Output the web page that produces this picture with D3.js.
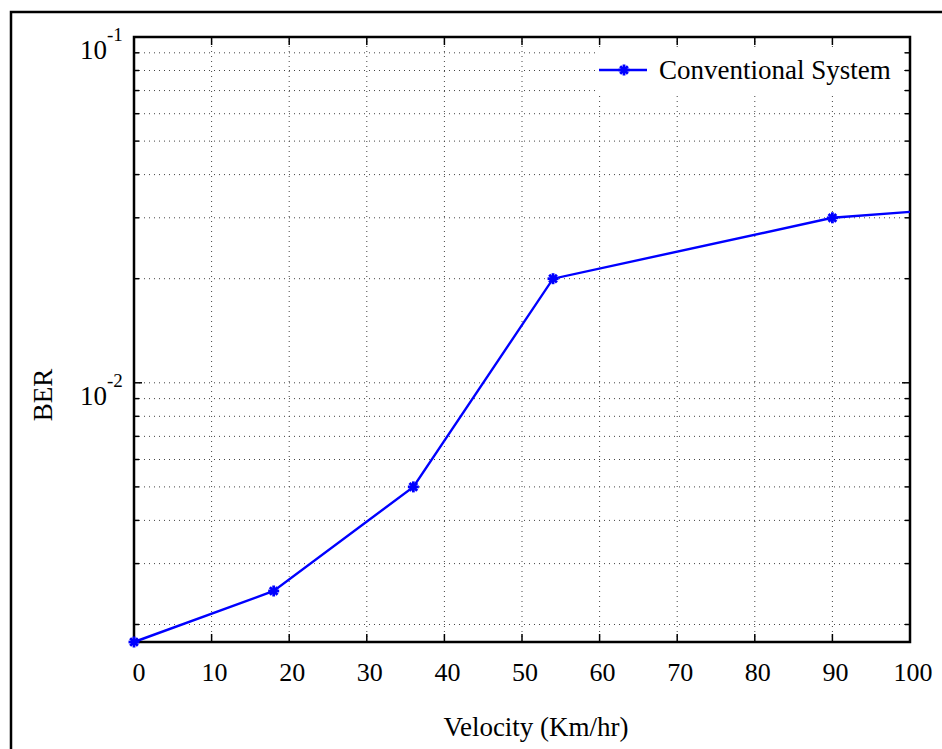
<!DOCTYPE html>
<html>
<head>
<meta charset="utf-8">
<script src="https://cdn.jsdelivr.net/npm/d3@7"></script>
<style>
  body { margin: 0; background: #fff; }
</style>
</head>
<body>
<div id="chart"></div>
<script>
// data
const velocity = [0, 18, 36, 54, 90, 100];
const ber = [0.00178, 0.0025, 0.005, 0.02, 0.03, 0.0312];
const seriesName = "Conventional System";
const xTicks = [0, 10, 20, 30, 40, 50, 60, 70, 80, 90, 100];
const yMajor = [0.01, 0.1];
const yExp = ["-2", "-1"];
const yMinor = [0.002, 0.003, 0.004, 0.005, 0.006, 0.007, 0.008, 0.009,
                0.02, 0.03, 0.04, 0.05, 0.06, 0.07, 0.08, 0.09];

const width = 942, height = 749;
const margin = { top: 37, right: 32, bottom: 107, left: 134 };
const serif = "'Liberation Serif', 'Times New Roman', Times, 'DejaVu Serif', serif";

const svg = d3.select("#chart").append("svg")
    .attr("width", width)
    .attr("height", height)
    .attr("font-family", serif);

// outer figure frame
svg.append("rect")
    .attr("x", 11).attr("y", 12)
    .attr("width", 1000).attr("height", 1000)
    .attr("fill", "none")
    .attr("stroke", "#000")
    .attr("stroke-width", 2.5);

const x = d3.scaleLinear()
    .domain([0, 100])
    .range([margin.left, width - margin.right]);

const y = d3.scaleLog()
    .domain([0.00178, 0.1])
    .range([height - margin.bottom, margin.top]);

const x0 = x.range()[0], x1 = x.range()[1];
const yb = y.range()[0], yt = y.range()[1];

// grid
const grid = svg.append("g")
    .attr("stroke", "#444")
    .attr("stroke-width", 1)
    .attr("stroke-dasharray", "1,4");

grid.selectAll(".gx")
    .data(xTicks.slice(1, -1))
    .join("line")
    .attr("x1", d => x(d)).attr("x2", d => x(d))
    .attr("y1", yb).attr("y2", yt);

grid.selectAll(".gy")
    .data(yMinor.concat([0.01]))
    .join("line")
    .attr("x1", x0).attr("x2", x1)
    .attr("y1", d => y(d)).attr("y2", d => y(d));

// ticks (inside, all four sides)
const ticks = svg.append("g").attr("stroke", "#000").attr("stroke-width", 1.5);
xTicks.forEach(d => {
    ticks.append("line").attr("x1", x(d)).attr("x2", x(d)).attr("y1", yb).attr("y2", yb - 8);
    ticks.append("line").attr("x1", x(d)).attr("x2", x(d)).attr("y1", yt).attr("y2", yt + 8);
});
yMajor.forEach(d => {
    ticks.append("line").attr("x1", x0).attr("x2", x0 + 8).attr("y1", y(d)).attr("y2", y(d));
    ticks.append("line").attr("x1", x1).attr("x2", x1 - 8).attr("y1", y(d)).attr("y2", y(d));
});
yMinor.forEach(d => {
    ticks.append("line").attr("x1", x0).attr("x2", x0 + 5).attr("y1", y(d)).attr("y2", y(d));
    ticks.append("line").attr("x1", x1).attr("x2", x1 - 5).attr("y1", y(d)).attr("y2", y(d));
});

// plot box
svg.append("rect")
    .attr("x", x0).attr("y", yt)
    .attr("width", x1 - x0).attr("height", yb - yt)
    .attr("fill", "none")
    .attr("stroke", "#000")
    .attr("stroke-width", 2.5);

// x tick labels
svg.append("g").selectAll("text")
    .data(xTicks)
    .join("text")
    .attr("x", d => x(d) + (d === 0 ? 5 : 3))
    .attr("y", yb + 39)
    .attr("text-anchor", "middle")
    .attr("font-size", 26)
    .text(d => d);

// y tick labels  10^-n
svg.append("g").selectAll("text")
    .data(yMajor)
    .join("text")
    .attr("x", 107)
    .attr("y", d => y(d) + 22)
    .attr("text-anchor", "end")
    .attr("font-size", 27)
    .text("10");
svg.append("g").selectAll("text")
    .data(yMajor)
    .join("text")
    .attr("x", 107)
    .attr("y", d => y(d) + 4)
    .attr("font-size", 19)
    .text((d, i) => yExp[i]);

// axis labels
svg.append("text")
    .attr("x", 536)
    .attr("y", 736)
    .attr("text-anchor", "middle")
    .attr("font-size", 27)
    .text("Velocity (Km/hr)");

svg.append("text")
    .attr("transform", "translate(52," + 395 + ") rotate(-90)")
    .attr("text-anchor", "middle")
    .attr("font-size", 27)
    .text("BER");

// series line
const line = d3.line()
    .x((d, i) => x(velocity[i]))
    .y(d => y(d));

svg.append("path")
    .datum(ber)
    .attr("d", line)
    .attr("fill", "none")
    .attr("stroke", "#0000ff")
    .attr("stroke-width", 2.4);

function star(g, cx, cy, r) {
    const s = g.append("g").attr("stroke", "#0000ff").attr("stroke-width", 2.8);
    s.append("line").attr("x1", cx - r).attr("x2", cx + r).attr("y1", cy).attr("y2", cy);
    s.append("line").attr("x1", cx).attr("x2", cx).attr("y1", cy - r).attr("y2", cy + r);
    const q = r * 0.7;
    s.append("line").attr("x1", cx - q).attr("x2", cx + q).attr("y1", cy - q).attr("y2", cy + q);
    s.append("line").attr("x1", cx - q).attr("x2", cx + q).attr("y1", cy + q).attr("y2", cy - q);
}

// the last point (at 100) shows no marker in the picture
const marks = svg.append("g");
ber.slice(0, -1).forEach((d, i) => star(marks, x(velocity[i]), y(d), 5.5));

// legend
const lg = svg.append("g");
lg.append("rect")
    .attr("x", 598).attr("y", 48)
    .attr("width", 304).attr("height", 46)
    .attr("fill", "#fff");
lg.append("line")
    .attr("x1", 599).attr("x2", 647)
    .attr("y1", 70).attr("y2", 70)
    .attr("stroke", "#0000ff")
    .attr("stroke-width", 2.4);
star(lg, 624, 70, 5.5);
lg.append("text")
    .attr("x", 659)
    .attr("y", 79)
    .attr("font-size", 27)
    .text(seriesName);
</script>
</body>
</html>
